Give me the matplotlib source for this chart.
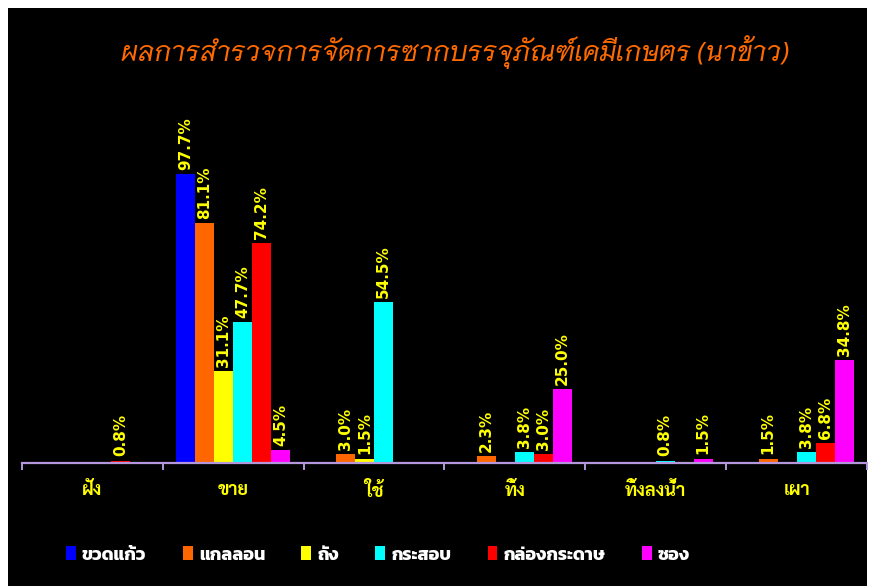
import matplotlib
matplotlib.use('Agg')
import matplotlib.pyplot as plt
from matplotlib import font_manager
from matplotlib.patches import Rectangle
import numpy as np

# data
categories = ['ฝัง', 'ขาย', 'ใช้', 'ทิ้ง', 'ทิ้งลงน้ำ', 'เผา']
series_names = ['ขวดแก้ว', 'แกลลอน', 'ถัง', 'กระสอบ', 'กล่องกระดาษ', 'ซอง']
glass = [0, 97.7, 0, 0, 0, 0]
gallon = [0, 81.1, 3.0, 2.3, 0, 1.5]
tank = [0, 31.1, 1.5, 0, 0, 0]
sack = [0, 47.7, 54.5, 3.8, 0.8, 3.8]
carton = [0.8, 74.2, 0, 3.0, 0, 6.8]
sachet = [0, 4.5, 0, 25.0, 1.5, 34.8]
series_values = [glass, gallon, tank, sack, carton, sachet]
colors = ['#0000FF', '#FF6600', '#FFFF00', '#00FFFF', '#FF0000', '#FF00FF']
title = 'ผลการสำรวจการจัดการซากบรรจุภัณฑ์เคมีเกษตร (นาข้าว)'

# pick Thai-capable families that are installed
installed = {f.name for f in font_manager.fontManager.ttflist}

def pick(prefs):
    for p in prefs:
        if p in installed:
            return p
    return 'DejaVu Sans'

thai_title = pick(['Niramit', 'K2D', 'Sarabun', 'Bai Jamjuree', 'Chakra Petch'])
thai_cat = pick(['Sarabun', 'Noto Sans Thai Looped', 'Noto Sans Thai', 'Niramit', 'Bai Jamjuree'])
thai_leg = pick(['Kanit', 'Prompt', 'Mitr', 'Chakra Petch', 'Bai Jamjuree'])

W, H = 870, 586
fig = plt.figure(figsize=(W / 100, H / 100), dpi=100)
fig.patch.set_facecolor('white')
# black chart area
fig.patches.append(Rectangle((8 / W, 0), (867 - 8) / W, 1 - 8 / H,
                             transform=fig.transFigure, facecolor='black',
                             edgecolor='none', zorder=-10))

px_per_pct = 2.96
ymax = 120
ax_left, ax_right = 22, 867
ax_base = 463
ax = fig.add_axes([ax_left / W, (H - ax_base) / H, (ax_right - ax_left) / W,
                   ymax * px_per_pct / H])
ax.set_facecolor('none')
ax.set_xlim(0, len(categories))
ax.set_ylim(0, ymax)

bar_w = 19 / 141
n = len(series_names)
x = np.arange(len(categories)) + 0.5
for i, (name, vals, c) in enumerate(zip(series_names, series_values, colors)):
    pos = x + (i - n / 2 + 0.5) * bar_w
    ax.bar(pos, vals, width=bar_w, color=c, label=name, zorder=2)
    for xp, v in zip(pos, vals):
        if v > 0:
            ax.annotate(f'{v:.1f}%', (xp, v), xytext=(0, 3), textcoords='offset points',
                        rotation=90, ha='center', va='bottom', color='#FFFF00',
                        fontsize=11, fontweight='bold', family='DejaVu Sans')

for s in ['top', 'right', 'left']:
    ax.spines[s].set_visible(False)
ax.spines['bottom'].set_color('#B496DC')
ax.spines['bottom'].set_linewidth(1.6)
ax.set_yticks([])
ax.set_xticks(np.arange(len(categories) + 1))
ax.set_xticklabels([])
ax.tick_params(axis='x', direction='out', length=5, color='#B496DC', width=1.4)
ax.set_xticks(x, minor=True)
ax.set_xticklabels(categories, minor=True, color='#FFFF00', fontsize=13,
                   fontweight='bold', family=[thai_cat, 'DejaVu Sans'])
ax.tick_params(axis='x', which='minor', length=0, pad=14)

fig.text(455 / W, 1 - 52 / H, title, ha='center', va='center', color='#FF6A00',
         fontsize=19, style='italic', family=[thai_title, 'DejaVu Sans'])

leg = fig.legend(loc='center', bbox_to_anchor=(378 / W, 1 - 555 / H), ncol=6,
                 frameon=False, handlelength=0.55, handleheight=0.8,
                 handletextpad=0.35, columnspacing=2.0,
                 prop={'family': [thai_leg, 'DejaVu Sans'], 'size': 13, 'weight': 'bold'})
for t in leg.get_texts():
    t.set_color('white')

fig.savefig('out.png', dpi=100, facecolor=fig.get_facecolor())
